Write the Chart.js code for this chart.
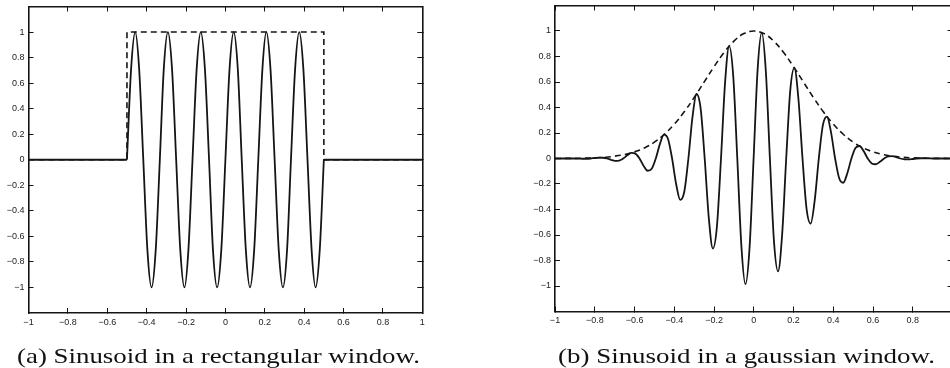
<!DOCTYPE html>
<html>
<head>
<meta charset="utf-8">
<script src="https://cdn.jsdelivr.net/npm/chart.js@4.4.1/dist/chart.umd.min.js"></script>
<style>
  html, body { margin: 0; padding: 0; background: #fff; overflow: hidden; }
  body { width: 950px; height: 368px; position: relative; }
  canvas { position: absolute; top: 0; }
  #rectChart { left: 0; }
  #gaussChart { left: 525px; }
  .caption {
    position: absolute; top: 341.5px; line-height: 28px;
    font-family: "Liberation Serif", "Times New Roman", "DejaVu Serif", serif;
    font-size: 22px; color: #111; white-space: nowrap;
  }
</style>
</head>
<body>
<canvas id="rectChart" width="450" height="368"></canvas>
<canvas id="gaussChart" width="450" height="368"></canvas>
<div class="caption" id="capA" data-left="17" data-width="403">(a) Sinusoid in a rectangular window.</div>
<div class="caption" id="capB" data-left="558" data-width="377">(b) Sinusoid in a gaussian window.</div>
<script>
// tick labels (same on both panels)
const xTicks = [-1, -0.8, -0.6, -0.4, -0.2, 0, 0.2, 0.4, 0.6, 0.8, 1];
const yTicks = [-1, -0.8, -0.6, -0.4, -0.2, 0, 0.2, 0.4, 0.6, 0.8, 1];

// (a) sinusoid inside the rectangular window
const rectSineX = [-0.5, -0.479, -0.458, -0.438, -0.417, -0.396, -0.375, -0.354, -0.333, -0.313, -0.292, -0.271,
    -0.25, -0.229, -0.208, -0.188, -0.167, -0.146, -0.125, -0.104, -0.083, -0.063, -0.042, -0.021,
    0, 0.021, 0.042, 0.063, 0.083, 0.104, 0.125, 0.146, 0.167, 0.188, 0.208, 0.229,
    0.25, 0.271, 0.292, 0.313, 0.333, 0.354, 0.375, 0.396, 0.417, 0.438, 0.458, 0.479, 0.5];
const rectSineY = [0, 0.71, 1, 0.71, 0, -0.71, -1, -0.71, 0, 0.71, 1, 0.71,
    0, -0.71, -1, -0.71, 0, 0.71, 1, 0.71, 0, -0.71, -1, -0.71,
    0, 0.71, 1, 0.71, 0, -0.71, -1, -0.71, 0, 0.71, 1, 0.71,
    0, -0.71, -1, -0.71, 0, 0.71, 1, 0.71, 0, -0.71, -1, -0.71, 0];
// flat parts outside the window
const leftFlatX = [-1, -0.5];
const leftFlatY = [0, 0];
const rightFlatX = [0.5, 1];
const rightFlatY = [0, 0];
// dashed rectangular window
const windowX = [-1, -0.5, -0.5, 0.5, 0.5, 1];
const windowY = [0, 0, 1, 1, 0, 0];

// (b) sinusoid inside the gaussian window
const gaussSineX = [-1, -0.903, -0.8825, -0.862, -0.8415, -0.821, -0.8005, -0.78, -0.7595, -0.739, -0.7185,
    -0.698, -0.6775, -0.657, -0.6365, -0.616, -0.5955, -0.575, -0.5545, -0.534, -0.5135, -0.493, -0.4725,
    -0.452, -0.4315, -0.411, -0.3905, -0.37, -0.3495, -0.329, -0.3085, -0.288, -0.2675, -0.247, -0.2265,
    -0.206, -0.1855, -0.165, -0.1445, -0.124, -0.1035, -0.083, -0.0625, -0.042, -0.0215, -0.001, 0.0195,
    0.04, 0.0605, 0.081, 0.1015, 0.122, 0.1425, 0.163, 0.1835, 0.204, 0.2245, 0.245, 0.2655,
    0.286, 0.3065, 0.327, 0.3475, 0.368, 0.3885, 0.409, 0.4295, 0.45, 0.4705, 0.491, 0.5115,
    0.532, 0.5525, 0.573, 0.5935, 0.614, 0.6345, 0.655, 0.6755, 0.696, 0.7165, 0.737, 0.7575,
    0.778, 0.7985, 0.819, 0.8395, 0.86, 0.8805, 0.901, 1];
const gaussSineY = [0, 0, -0.001, -0.002, -0.002, 0, 0.004, 0.007, 0.006, 0, -0.01,
    -0.018, -0.016, 0, 0.025, 0.044, 0.038, 0, -0.057, -0.096, -0.081, 0, 0.113,
    0.187, 0.153, 0, -0.202, -0.325, -0.259, 0, 0.324, 0.506, 0.393, 0, -0.464,
    -0.706, -0.533, 0, 0.595, 0.881, 0.648, 0, -0.685, -0.986, -0.704, 0, 0.705,
    0.987, 0.686, 0, -0.65, -0.885, -0.598, 0, 0.536, 0.711, 0.467, 0, -0.396,
    -0.511, -0.327, 0, 0.262, 0.329, 0.205, 0, -0.155, -0.19, -0.115, 0, 0.083,
    0.098, 0.058, 0, -0.039, -0.045, -0.026, 0, 0.017, 0.019, 0.01, 0, -0.006,
    -0.007, -0.004, 0, 0.002, 0.002, 0.001, 0, 0];
// dashed gaussian envelope
const envX = [-1, -0.95, -0.9, -0.85, -0.8, -0.75, -0.7, -0.65, -0.6, -0.55, -0.5, -0.45, -0.4, -0.35, -0.3,
    -0.25, -0.2, -0.15, -0.1, -0.05, 0, 0.05, 0.1, 0.15, 0.2, 0.25, 0.3, 0.35, 0.4, 0.45, 0.5,
    0.55, 0.6, 0.65, 0.7, 0.75, 0.8, 0.85, 0.9, 0.95, 1];
const envY = [0, 0.001, 0.001, 0.003, 0.005, 0.01, 0.018, 0.031, 0.052, 0.083, 0.128, 0.19, 0.269, 0.366, 0.478,
    0.599, 0.72, 0.831, 0.921, 0.98, 1, 0.98, 0.921, 0.831, 0.72, 0.599, 0.478, 0.366, 0.269, 0.19, 0.128,
    0.083, 0.052, 0.031, 0.018, 0.01, 0.005, 0.003, 0.001, 0.001, 0];

const INK = '#151515';
const tickFont = { family: '"Liberation Sans", Arial, Helvetica, sans-serif', size: 9 };

function pts(xs, ys) {
    return xs.map((x, i) => ({ x: x, y: ys[i] }));
}

function fmt(v) {
    const r = Math.round(v * 10) / 10;
    return r < 0 ? '\u2212' + (-r) : String(r);
}

function solid(xs, ys) {
    return { data: pts(xs, ys), borderColor: INK, borderWidth: 1.8, pointRadius: 0,
        cubicInterpolationMode: 'monotone', fill: false };
}

function dashed(xs, ys, tension) {
    return { data: pts(xs, ys), borderColor: INK, borderWidth: 1.6, borderDash: [6, 4], pointRadius: 0,
        tension: tension, fill: false };
}

// one axis; labelled ones on bottom/left, bare tick marks on top/right (ticks point inward)
function axis(position, ticks, range, size, labelled) {
    const horizontal = position === 'top' || position === 'bottom';
    return {
        type: 'linear',
        position: position,
        min: -range,
        max: range,
        afterBuildTicks: s => { s.ticks = ticks.map(v => ({ value: v })); },
        afterFit: s => {
            if (horizontal) s.height = size;
            else s.width = size;
            s.paddingTop = 0; s.paddingBottom = 0;
            s.paddingLeft = 0; s.paddingRight = 0;
        },
        grid: { drawOnChartArea: false, drawTicks: true, tickLength: -5, color: INK, lineWidth: 1 },
        border: { display: true, color: INK, width: 1.6 },
        ticks: {
            display: labelled,
            font: tickFont,
            color: '#222',
            padding: 9,
            autoSkip: false,
            maxRotation: 0,
            callback: fmt
        }
    };
}

function makeChart(id, datasets, yWidth, padding) {
    return new Chart(document.getElementById(id), {
        type: 'line',
        data: { datasets: datasets },
        options: {
            responsive: false,
            animation: false,
            layout: { padding: padding },
            scales: {
                x: axis('bottom', xTicks, 1, 20, true),
                x2: axis('top', xTicks, 1, 0, false),
                y: axis('left', yTicks, 1.2, yWidth, true),
                y2: axis('right', yTicks, 1.2, 0, false)
            },
            plugins: { legend: { display: false }, tooltip: { enabled: false } }
        }
    });
}

makeChart('rectChart', [
    solid(leftFlatX, leftFlatY),
    solid(rectSineX, rectSineY),
    solid(rightFlatX, rightFlatY),
    dashed(windowX, windowY, 0)
], 28.5, { left: 0, right: 27.7, top: 6.5, bottom: 35 });

makeChart('gaussChart', [
    solid(gaussSineX, gaussSineY),
    dashed(envX, envY, 0.4)
], 30, { left: 0, right: 22.4, top: 5.5, bottom: 36.5 });

// stretch the captions to the width they have in the scanned figure
document.querySelectorAll('.caption').forEach(el => {
    const w = el.getBoundingClientRect().width;
    const k = Number(el.dataset.width) / w;
    el.style.left = el.dataset.left + 'px';
    el.style.transformOrigin = '0 0';
    el.style.transform = 'scaleX(' + k.toFixed(3) + ')';
});
</script>
</body>
</html>
